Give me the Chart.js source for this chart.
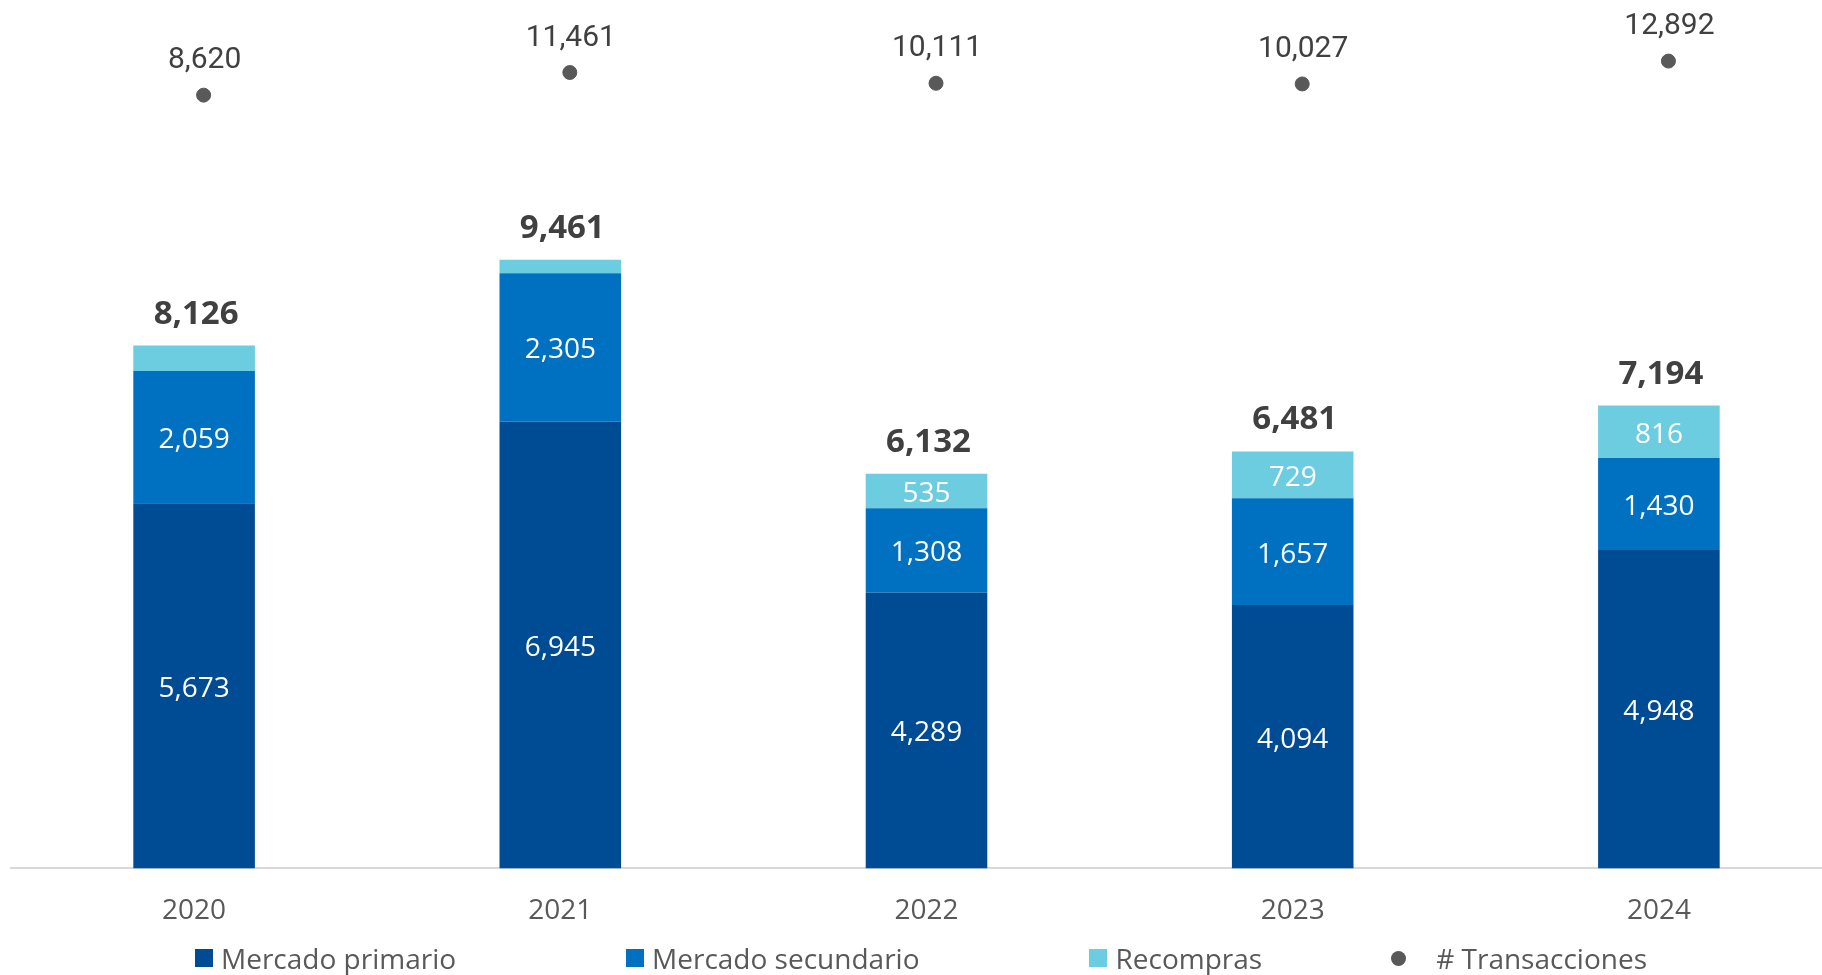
<!DOCTYPE html>
<html>
<head>
<meta charset="utf-8">
<script src="https://cdn.jsdelivr.net/npm/chart.js@4"></script>
<style>
    html, body { margin: 0; padding: 0; background: #fff; overflow: hidden; }
    #wrap { position: relative; width: 1842px; height: 975px; }
    #legend {
        position: absolute; left: 0; top: 942px; width: 1842px; height: 32px;
        display: flex; justify-content: center; align-items: center;
        font-family: "Open Sans", sans-serif; font-size: 28px; color: #595959;
    }
    #legend .item { display: flex; align-items: center; white-space: nowrap; }
    #legend .item + .item { margin-left: 170px; }
    #legend .item.dot { margin-left: 129px; }
    #legend .box { width: 18px; height: 18px; margin-right: 8px; }
    #legend .circle { width: 15px; height: 15px; border-radius: 50%; margin-right: 30px; }
</style>
</head>
<body>
<div id="wrap">
    <canvas id="chart" width="1842" height="975"></canvas>
    <div id="legend"></div>
</div>
<script>
var years = ['2020', '2021', '2022', '2023', '2024'];
var primario = [5673, 6945, 4289, 4094, 4948];
var secundario = [2059, 2305, 1308, 1657, 1430];
var recompras = [394, 211, 535, 729, 816];
var totales = [8126, 9461, 6132, 6481, 7194];
var transacciones = [8620, 11461, 10111, 10027, 12892];

var seriesNames = ['Mercado primario', 'Mercado secundario', 'Recompras', '# Transacciones'];
var colors = ['#004C94', '#0070C0', '#6CCCE0', '#595959'];

function fmt(v) {
    return v.toLocaleString('en-US');
}

// numbers inside the bars, totals above, and counts above the dots
var labelsPlugin = {
    id: 'labels',
    afterDatasetsDraw: function(chart) {
        var ctx = chart.ctx;
        ctx.save();
        ctx.textAlign = 'center';
        for (var d = 0; d < 3; d++) {
            var meta = chart.getDatasetMeta(d);
            var values = chart.data.datasets[d].data;
            meta.data.forEach(function(bar, i) {
                if (values[i] < 450) return;
                ctx.font = '28px "Open Sans"';
                ctx.fillStyle = '#ffffff';
                ctx.textBaseline = 'middle';
                ctx.fillText(fmt(values[i]), bar.x, (bar.y + bar.base) / 2 + 3);
            });
        }
        var top = chart.getDatasetMeta(2);
        top.data.forEach(function(bar, i) {
            ctx.font = 'bold 33px "Open Sans"';
            ctx.fillStyle = '#404040';
            ctx.textBaseline = 'alphabetic';
            ctx.fillText(fmt(totales[i]), bar.x + 2, bar.y - 22);
        });
        var pts = chart.getDatasetMeta(3);
        pts.data.forEach(function(p, i) {
            ctx.font = '30px Roboto';
            ctx.fillStyle = '#404040';
            ctx.textBaseline = 'alphabetic';
            ctx.fillText(fmt(transacciones[i]), p.x + 1, p.y - 27);
        });
        ctx.restore();
    }
};

var ctx = document.getElementById('chart').getContext('2d');
new Chart(ctx, {
    type: 'bar',
    data: {
        labels: years,
        datasets: [
            { label: seriesNames[0], data: primario, backgroundColor: colors[0], order: 2 },
            { label: seriesNames[1], data: secundario, backgroundColor: colors[1], order: 2 },
            { label: seriesNames[2], data: recompras, backgroundColor: colors[2], order: 2 },
            {
                type: 'scatter',
                label: seriesNames[3],
                data: transacciones.map(function(v, i) { return { x: i, y: v }; }),
                xAxisID: 'x2',
                yAxisID: 'y2',
                backgroundColor: colors[3],
                borderColor: colors[3],
                pointRadius: 7,
                order: 1
            }
        ]
    },
    options: {
        responsive: false,
        animation: false,
        layout: { autoPadding: false, padding: { left: 11, right: 0, top: 0, bottom: 21 } },
        datasets: { bar: { grouped: false, barPercentage: 1, categoryPercentage: 0.332 } },
        plugins: { legend: { display: false }, tooltip: { enabled: false } },
        scales: {
            x: {
                stacked: true,
                grid: { display: false, drawTicks: false },
                border: { display: true, color: '#D9D9D9', width: 2 },
                ticks: { padding: 26, color: '#595959', font: { family: 'Open Sans', size: 28 } }
            },
            x2: {
                type: 'linear',
                display: false,
                offset: false,
                bounds: 'data',
                grid: { offset: false },
                min: -0.526,
                max: 4.474
            },
            y: {
                stacked: true,
                display: false,
                min: 0,
                max: 13496
            },
            y2: {
                display: false,
                position: 'right',
                min: -88377,
                max: 20556
            }
        }
    },
    plugins: [labelsPlugin]
});

var legend = document.getElementById('legend');
seriesNames.forEach(function(name, i) {
    var item = document.createElement('div');
    item.className = 'item' + (i === 3 ? ' dot' : '');
    var mark = document.createElement('span');
    mark.className = i === 3 ? 'circle' : 'box';
    mark.style.background = colors[i];
    var text = document.createElement('span');
    text.textContent = name;
    item.appendChild(mark);
    item.appendChild(text);
    legend.appendChild(item);
});
</script>
</body>
</html>
